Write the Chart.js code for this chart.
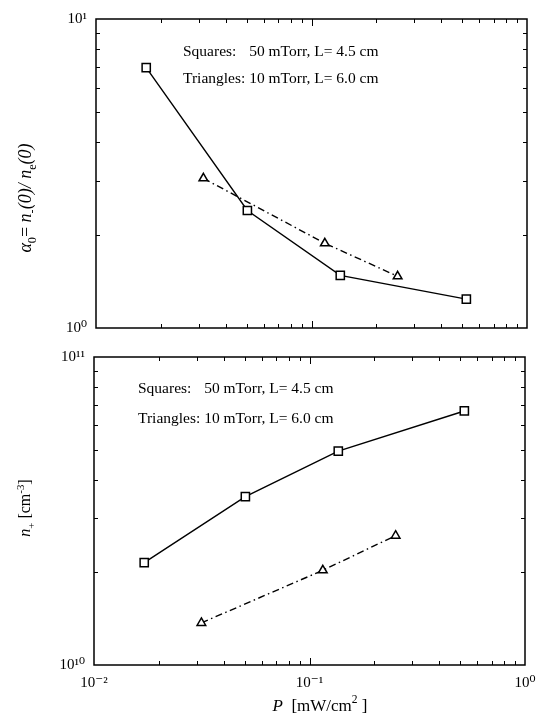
<!DOCTYPE html>
<html>
<head>
<meta charset="utf-8">
<script src="https://cdn.jsdelivr.net/npm/chart.js@4.4.0/dist/chart.umd.min.js"></script>
<style>
  html, body { margin: 0; padding: 0; background: #fff; }
  #wrap { position: relative; width: 539px; height: 716px; background: #fff; }
  #c1 { position: absolute; left: 0; top: 0; }
  #c2 { position: absolute; left: 0; top: 342px; }
</style>
</head>
<body>
<div id="wrap">
  <canvas id="c1" width="539" height="342"></canvas>
  <canvas id="c2" width="539" height="374"></canvas>
</div>
<script>
// ---------------- data ----------------
const powerSquares   = [0.0171, 0.0504, 0.136, 0.523];      // P [mW/cm^2], 50 mTorr, L = 4.5 cm
const powerTriangles = [0.0315, 0.1153, 0.251];             // P [mW/cm^2], 10 mTorr, L = 6.0 cm
const alphaSquares   = [6.96, 2.40, 1.48, 1.24];            // alpha0 = n-(0)/ne(0)
const alphaTriangles = [3.05, 1.88, 1.47];
const nPlusSquares   = [2.15e10, 3.52e10, 4.95e10, 6.68e10]; // n+ [cm^-3]
const nPlusTriangles = [1.37e10, 2.03e10, 2.63e10];

const xTickValues   = [0.01, 0.1, 1];
const xTickLabels   = ['10\u207B\u00B2', '10\u207B\u00B9', '10\u2070'];
const yTopTickValues = [1, 10];
const yTopTickLabels = ['10\u2070', '10\u00B9'];
const yBotTickValues = [1e10, 1e11];
const yBotTickLabels = ['10\u00B9\u2070', '10\u00B9\u00B9'];

const legendSquares   = ['Squares:', '50 mTorr, L= 4.5 cm'];
const legendTriangles = ['Triangles:', '10 mTorr, L= 6.0 cm'];

// ---------------- styling helpers ----------------
const SERIF = "'Liberation Serif', 'DejaVu Serif', 'Times New Roman', serif";
Chart.defaults.color = '#000';
Chart.defaults.font.family = SERIF;

function pts(xs, ys) { return xs.map((x, i) => ({ x: x, y: ys[i] })); }

function drawRich(ctx, segs, cx, cy, size, rotate) {
  const fontFor = s => (s.i ? 'italic ' : '') + ((s.sub || s.sup) ? size * 0.68 : size) + 'px ' + SERIF;
  let total = 0;
  const widths = segs.map(s => { ctx.font = fontFor(s); const w = ctx.measureText(s.t).width; total += w; return w; });
  ctx.save();
  ctx.translate(cx, cy);
  if (rotate) ctx.rotate(-Math.PI / 2);
  ctx.fillStyle = '#000';
  ctx.textBaseline = 'alphabetic';
  ctx.textAlign = 'left';
  let x = -total / 2;
  const base = size * 0.33;
  segs.forEach((s, k) => {
    ctx.font = fontFor(s);
    let dy = 0;
    if (s.sub) dy = size * 0.28;
    if (s.sup) dy = -size * 0.42;
    ctx.fillText(s.t, x, base + dy);
    x += widths[k];
  });
  ctx.restore();
}

function frameAndTicks(chart, yMinor) {
  const { ctx, chartArea: a, scales } = chart;
  const xs = scales.x, ys = scales.y;
  ctx.save();
  ctx.strokeStyle = '#000';
  ctx.lineWidth = 1.5;
  ctx.strokeRect(a.left, a.top, a.right - a.left, a.bottom - a.top);
  ctx.lineWidth = 1;
  ctx.beginPath();
  const xMinor = [];
  [0.01, 0.1].forEach(d => { for (let k = 2; k <= 9; k++) xMinor.push(d * k); });
  xMinor.forEach(v => {
    const px = Math.round(xs.getPixelForValue(v)) + 0.5;
    ctx.moveTo(px, a.bottom); ctx.lineTo(px, a.bottom - 4);
    ctx.moveTo(px, a.top); ctx.lineTo(px, a.top + 4);
  });
  const pMaj = Math.round(xs.getPixelForValue(0.1)) + 0.5;
  ctx.moveTo(pMaj, a.bottom); ctx.lineTo(pMaj, a.bottom - 7);
  ctx.moveTo(pMaj, a.top); ctx.lineTo(pMaj, a.top + 7);
  yMinor.forEach(v => {
    const py = Math.round(ys.getPixelForValue(v)) + 0.5;
    ctx.moveTo(a.left, py); ctx.lineTo(a.left + 4, py);
    ctx.moveTo(a.right, py); ctx.lineTo(a.right - 4, py);
  });
  ctx.stroke();
  ctx.restore();
}

function drawLegendText(chart, x, y1, y2) {
  const ctx = chart.ctx;
  ctx.save();
  ctx.fillStyle = '#000';
  ctx.font = '15.5px ' + SERIF;
  ctx.textBaseline = 'alphabetic';
  ctx.textAlign = 'left';
  const indent = ctx.measureText(legendTriangles[0] + ' ').width;
  ctx.fillText(legendSquares[0], x, y1);
  ctx.fillText(legendSquares[1], x + indent, y1);
  ctx.fillText(legendTriangles[0], x, y2);
  ctx.fillText(legendTriangles[1], x + indent, y2);
  ctx.restore();
}

const squareStyle = {
  borderColor: '#000', borderWidth: 1.4,
  pointStyle: 'rect', pointRadius: 5.8, pointHoverRadius: 5.8,
  pointBackgroundColor: '#fff', pointBorderColor: '#000', pointBorderWidth: 1.5,
  fill: false, tension: 0
};
const triangleStyle = {
  borderColor: '#000', borderWidth: 1.4, borderDash: [7, 3.5, 1.5, 3.5],
  pointStyle: 'triangle', pointRadius: 5, pointHoverRadius: 5,
  pointBackgroundColor: '#fff', pointBorderColor: '#000', pointBorderWidth: 1.5,
  fill: false, tension: 0
};

function noPad(s) { s.paddingLeft = 0; s.paddingRight = 0; s.paddingTop = 0; s.paddingBottom = 0; }

function logY(min, max, tickVals, tickLabels, width) {
  return {
    type: 'logarithmic', min: min, max: max,
    grid: { display: false, drawTicks: false },
    border: { display: false },
    afterBuildTicks: s => { s.ticks = tickVals.map(v => ({ value: v })); },
    afterFit: s => { s.width = width; noPad(s); },
    ticks: {
      padding: 9, autoSkip: false,
      font: { size: 15, family: SERIF },
      callback: v => { const i = tickVals.indexOf(v); return i >= 0 ? tickLabels[i] : ''; }
    }
  };
}

// ---------------- top panel ----------------
new Chart(document.getElementById('c1'), {
  type: 'line',
  data: {
    datasets: [
      Object.assign({ label: 'Squares: 50 mTorr, L= 4.5 cm', data: pts(powerSquares, alphaSquares) }, squareStyle),
      Object.assign({ label: 'Triangles: 10 mTorr, L= 6.0 cm', data: pts(powerTriangles, alphaTriangles) }, triangleStyle)
    ]
  },
  options: {
    responsive: false, animation: false, devicePixelRatio: 1,
    layout: { padding: { left: 0, right: 12, top: 19, bottom: 14 } },
    plugins: { legend: { display: false }, tooltip: { enabled: false } },
    scales: {
      x: { type: 'logarithmic', min: 0.01, max: 1, display: false },
      y: logY(1, 10, yTopTickValues, yTopTickLabels, 96)
    }
  },
  plugins: [{
    id: 'decorTop',
    beforeDatasetsDraw(chart) {
      const yMinor = []; for (let k = 2; k <= 9; k++) yMinor.push(k);
      frameAndTicks(chart, yMinor);
    },
    afterDraw(chart) {
      drawLegendText(chart, 183, 56, 83);
      drawRich(chart.ctx, [
        { t: '\u03B1', i: true }, { t: '0', sub: true }, { t: '= ' },
        { t: 'n', i: true }, { t: '-', sub: true, i: true }, { t: '(0)/ ', i: true },
        { t: 'n', i: true }, { t: 'e', sub: true }, { t: '(0)', i: true }
      ], 25, 198, 18, true);
    }
  }]
});

// ---------------- bottom panel ----------------
new Chart(document.getElementById('c2'), {
  type: 'line',
  data: {
    datasets: [
      Object.assign({ label: 'Squares: 50 mTorr, L= 4.5 cm', data: pts(powerSquares, nPlusSquares) }, squareStyle),
      Object.assign({ label: 'Triangles: 10 mTorr, L= 6.0 cm', data: pts(powerTriangles, nPlusTriangles) }, triangleStyle)
    ]
  },
  options: {
    responsive: false, animation: false, devicePixelRatio: 1,
    layout: { padding: { left: 0, right: 14, top: 15, bottom: 0 } },
    plugins: { legend: { display: false }, tooltip: { enabled: false } },
    scales: {
      x: {
        type: 'logarithmic', min: 0.01, max: 1,
        grid: { display: false, drawTicks: false },
        border: { display: false },
        afterBuildTicks: s => { s.ticks = xTickValues.map(v => ({ value: v })); },
        afterFit: s => { s.height = 51; noPad(s); },
        ticks: {
          padding: 9, autoSkip: false, maxRotation: 0,
          font: { size: 15, family: SERIF },
          callback: v => { const i = xTickValues.indexOf(v); return i >= 0 ? xTickLabels[i] : ''; }
        }
      },
      y: logY(1e10, 1e11, yBotTickValues, yBotTickLabels, 94)
    }
  },
  plugins: [{
    id: 'decorBottom',
    beforeDatasetsDraw(chart) {
      const yMinor = []; for (let k = 2; k <= 9; k++) yMinor.push(k * 1e10);
      frameAndTicks(chart, yMinor);
    },
    afterDraw(chart) {
      drawLegendText(chart, 138, 51, 81);
      drawRich(chart.ctx, [
        { t: 'n', i: true }, { t: '+', sub: true }, { t: ' [cm' }, { t: '-3', sup: true }, { t: ']' }
      ], 25, 166, 16, true);
      drawRich(chart.ctx, [
        { t: 'P', i: true }, { t: '  [mW/cm' }, { t: '2', sup: true }, { t: ' ]' }
      ], 320, 363, 17, false);
    }
  }]
});
</script>
</body>
</html>
